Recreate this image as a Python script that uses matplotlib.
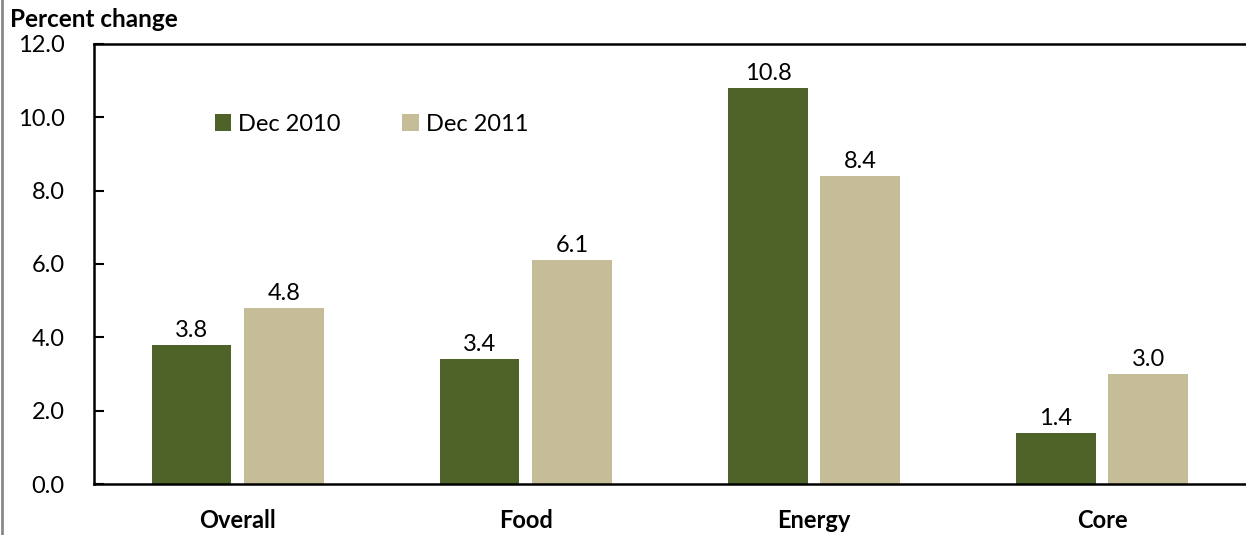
import numpy as np
import matplotlib.pyplot as plt
from matplotlib.lines import Line2D

plt.rcParams["font.family"] = ["Lato", "DejaVu Sans"]

categories = ["Overall", "Food", "Energy", "Core"]
dec_2010 = [3.8, 3.4, 10.8, 1.4]
dec_2011 = [4.8, 6.1, 8.4, 3.0]
yticks = [0.0, 2.0, 4.0, 6.0, 8.0, 10.0, 12.0]

dark = "#4f6228"
light = "#c4bd97"

fig = plt.figure(figsize=(12.46, 5.35), dpi=100)
ax = fig.add_axes([0.0754, 0.0953, 0.93, 0.8225])

x = np.arange(len(categories))
w = 0.275
off = 0.16
b1 = ax.bar(x - off, dec_2010, w, color=dark, label="Dec 2010")
b2 = ax.bar(x + off, dec_2011, w, color=light, label="Dec 2011")

for bars, vals in [(b1, dec_2010), (b2, dec_2011)]:
    for rect, v in zip(bars, vals):
        ax.annotate(f"{v:.1f}", (rect.get_x() + rect.get_width() / 2, v),
                    xytext=(0, 3), textcoords="offset points",
                    ha="center", va="bottom", fontsize=17)

# extend past the right edge so the right spine falls outside the image
ax.set_xlim(-0.5, 3.5 + 0.0054 * 4 / 0.9246)
ax.set_ylim(0, 12)
ax.set_yticks(yticks)
ax.set_yticklabels([f"{t:.1f}" for t in yticks])
ax.set_xticks(x)
ax.set_xticklabels(categories, fontweight="bold")
ax.tick_params(axis="y", direction="in", length=7, width=1.5, pad=21, labelsize=17)
ax.tick_params(axis="x", length=0, pad=18, labelsize=17)

for s in ["left", "bottom", "top"]:
    ax.spines[s].set_linewidth(1.8)
ax.spines["right"].set_visible(False)

ax.legend(loc="upper left", bbox_to_anchor=(0.086, 0.89), ncol=2, frameon=False,
          fontsize=17, handlelength=0.7, handleheight=0.7, handletextpad=0.3,
          columnspacing=2.6)

fig.text(0.008, 0.963, "Percent change", fontsize=17.5, fontweight="bold",
         ha="left", va="center")
fig.add_artist(Line2D([0.002, 0.002], [0, 1], transform=fig.transFigure,
                      color="#888888", linewidth=2))

fig.savefig("out.png", dpi=100)
